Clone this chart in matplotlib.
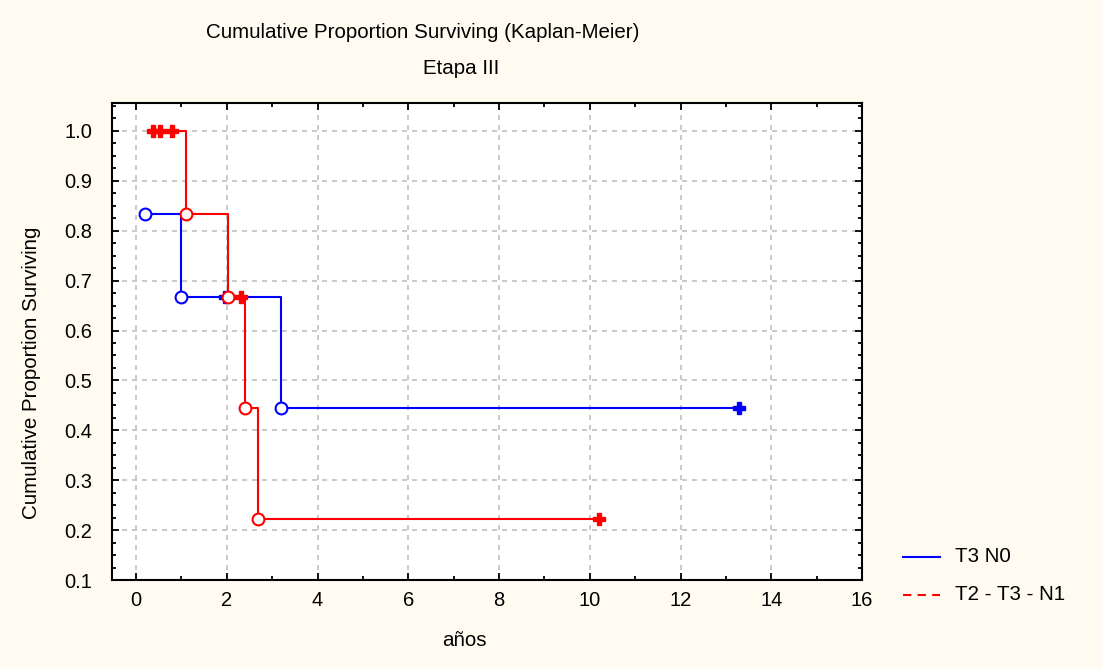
import matplotlib

matplotlib.use("Agg")
import matplotlib.pyplot as plt  # noqa: E402
from matplotlib.ticker import MultipleLocator  # noqa: E402

plt.rcParams["font.family"] = ["Liberation Sans", "DejaVu Sans"]

# T3 N0 (azul)
azul_inicio = 0.19
azul_eventos_t = [0.19, 1.0, 3.2]
azul_eventos_s = [0.833, 0.667, 0.444]
azul_cens_t = [1.95, 13.3]
azul_cens_s = [0.667, 0.444]

# T2 - T3 - N1 (rojo)
rojo_inicio = 0.3
rojo_eventos_t = [1.1, 2.03, 2.4, 2.68]
rojo_eventos_s = [0.833, 0.667, 0.444, 0.222]
rojo_cens_t = [0.38, 0.52, 0.8, 2.32, 10.2]
rojo_cens_s = [1.0, 1.0, 1.0, 0.667, 0.222]

FONDO = "#fffbf0"
AZUL = "#0000ff"
ROJO = "#ff0000"
FS = 14.8


def _escalones(t0, s0, ev_t, ev_s, t_fin):
    xs, ys = [t0], [s0]
    s = s0
    for t, v in zip(ev_t, ev_s):
        xs += [t, t]
        ys += [s, v]
        s = v
    xs.append(t_fin)
    ys.append(s)
    return xs, ys


fig = plt.figure(figsize=(11.02, 6.69), dpi=100, facecolor=FONDO)
ax = fig.add_axes([112 / 1102, 1 - 580 / 669, (862 - 112) / 1102, (580 - 103) / 669])
ax.set_facecolor("white")

# azul
xa, ya = _escalones(azul_inicio, azul_eventos_s[0], azul_eventos_t[1:], azul_eventos_s[1:], azul_cens_t[-1])
ax.plot(xa, ya, color=AZUL, lw=1.5, zorder=3)
ax.plot(azul_cens_t, azul_cens_s, ls="none", marker="P", ms=9, color=AZUL, zorder=4)
ax.plot(azul_eventos_t, azul_eventos_s, ls="none", marker="o", ms=8.5, mfc="white",
        mec=AZUL, mew=1.5, zorder=5)

# rojo
xr, yr = _escalones(rojo_inicio, 1.0, rojo_eventos_t, rojo_eventos_s, rojo_cens_t[-1])
ax.plot(xr, yr, color=ROJO, lw=1.5, zorder=3)
ax.plot(rojo_cens_t, rojo_cens_s, ls="none", marker="P", ms=9, color=ROJO, zorder=6)
ax.plot(rojo_eventos_t, rojo_eventos_s, ls="none", marker="o", ms=8.5, mfc="white",
        mec=ROJO, mew=1.5, zorder=5)

ax.set_xlim(-0.53, 16)
ax.set_ylim(0.1, 1.056)
ax.xaxis.set_major_locator(MultipleLocator(2))
ax.xaxis.set_minor_locator(MultipleLocator(1))
ax.yaxis.set_major_locator(MultipleLocator(0.1))
ax.yaxis.set_minor_locator(MultipleLocator(0.025))
ax.yaxis.set_major_formatter(lambda v, _: f"{v:.1f}")
ax.tick_params(which="both", direction="in", top=True, right=True, labelsize=14.5,
               width=1.3, color="black")
ax.tick_params(which="major", length=5)
ax.tick_params(which="minor", length=3)
ax.tick_params(axis="x", which="major", pad=8)
ax.tick_params(axis="y", which="major", pad=14)
for sp in ax.spines.values():
    sp.set_linewidth(1.5)
ax.grid(True, which="major", color="#c0c0c0", ls=(0, (3, 3)), lw=1.2)

fig.text(423 / 1102, 1 - 33 / 669, "Cumulative Proportion Surviving (Kaplan-Meier)",
         ha="center", va="center", fontsize=FS)
fig.text(461 / 1102, 1 - 68 / 669, "Etapa III", ha="center", va="center", fontsize=FS)
fig.text(32 / 1102, 1 - 373 / 669, "Cumulative Proportion Surviving", rotation=90,
         ha="center", va="center", fontsize=FS)
fig.text(464 / 1102, 1 - 641 / 669, "años", ha="center", va="center", fontsize=FS)

# leyenda
fig.add_artist(plt.Line2D([903 / 1102, 940 / 1102], [1 - 557 / 669] * 2, color=AZUL, lw=1.5))
fig.add_artist(plt.Line2D([903 / 1102, 940 / 1102], [1 - 595 / 669] * 2, color=ROJO, lw=1.5,
                          ls=(0, (4, 3))))
fig.text(955 / 1102, 1 - 557 / 669, "T3 N0", va="center", fontsize=FS)
fig.text(955 / 1102, 1 - 595 / 669, "T2 - T3 - N1", va="center", fontsize=FS)

fig.savefig("out.png", dpi=100, facecolor=FONDO)
